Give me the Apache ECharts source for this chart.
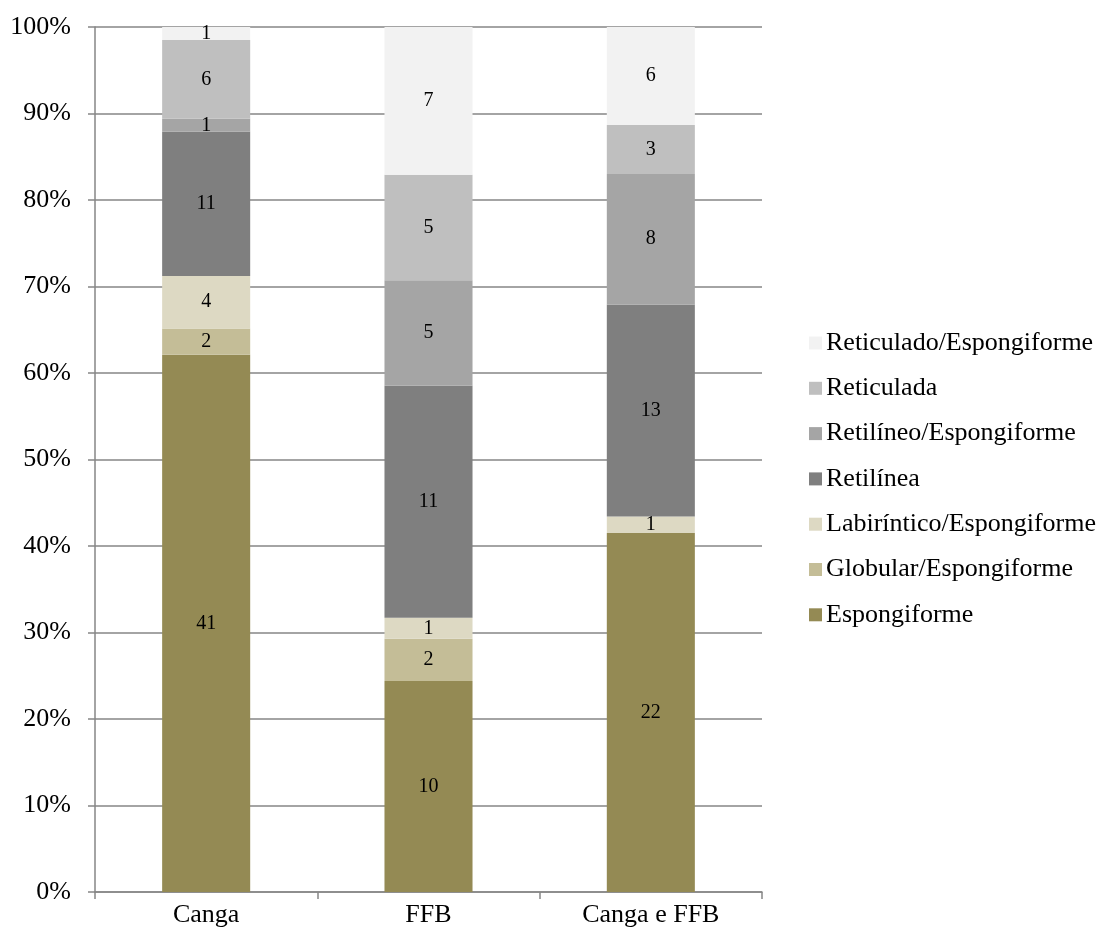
<!DOCTYPE html>
<html>
<head>
<meta charset="utf-8">
<script src="https://cdn.jsdelivr.net/npm/echarts@6/dist/echarts.min.js"></script>
<style>
  html, body { margin: 0; padding: 0; background: #fff; }
  #chart { width: 1102px; height: 938px; }
</style>
</head>
<body>
<div id="chart"></div>
<script>
// Sites along the x axis
const categories = ['Canga', 'FFB', 'Canga e FFB'];

// Counts of each morphological type per site (stack order, bottom to top)
const espongiforme = [41, 10, 22];
const globularEsp = [2, 2, 0];
const labirinticoEsp = [4, 1, 1];
const retilinea = [11, 11, 13];
const retilineoEsp = [1, 5, 8];
const reticulada = [6, 5, 3];
const reticuladoEsp = [1, 7, 6];

const seriesNames = [
  'Espongiforme',
  'Globular/Espongiforme',
  'Labiríntico/Espongiforme',
  'Retilínea',
  'Retilíneo/Espongiforme',
  'Reticulada',
  'Reticulado/Espongiforme'
];
const seriesCounts = [espongiforme, globularEsp, labirinticoEsp, retilinea, retilineoEsp, reticulada, reticuladoEsp];
const seriesColors = ['#948A54', '#C4BD97', '#DDD9C3', '#7F7F7F', '#A5A5A5', '#BFBFBF', '#F2F2F2'];

// Percentage axis ticks
const yTicks = [0, 10, 20, 30, 40, 50, 60, 70, 80, 90, 100];

// Totals per site, used to turn counts into shares of 100%
const totals = categories.map((_, i) => seriesCounts.reduce((s, arr) => s + arr[i], 0));

const font = 'Liberation Serif, Times New Roman, serif';
const axisGray = '#868686';

const series = seriesNames.map((name, k) => ({
  name: name,
  type: 'bar',
  stack: 'total',
  barWidth: '39.6%',
  itemStyle: { color: seriesColors[k] },
  label: {
    show: true,
    position: 'inside',
    color: '#000',
    fontFamily: font,
    fontSize: 20,
    formatter: p => {
      const c = seriesCounts[k][p.dataIndex];
      return c === 0 ? '' : String(c);
    }
  },
  data: seriesCounts[k].map((c, i) => c / totals[i] * 100)
}));

const chart = echarts.init(document.getElementById('chart'), null, { renderer: 'canvas' });
chart.setOption({
  animation: false,
  backgroundColor: '#fff',
  grid: { left: 95, right: 340, top: 27, bottom: 46, containLabel: false },
  legend: {
    orient: 'vertical',
    left: 804,
    top: 323,
    data: seriesNames.slice().reverse(),
    icon: 'rect',
    itemWidth: 13,
    itemHeight: 13,
    itemGap: 15.3,
    textStyle: { fontFamily: font, fontSize: 26, color: '#000', lineHeight: 30, padding: [0, 0, 0, -1] }
  },
  xAxis: {
    type: 'category',
    data: categories,
    axisLine: { show: true, lineStyle: { color: axisGray, width: 1.5 } },
    axisTick: { show: true, alignWithLabel: false, length: 7, lineStyle: { color: axisGray, width: 1.5 } },
    axisLabel: { fontFamily: font, fontSize: 26, color: '#000', margin: 10 }
  },
  yAxis: {
    type: 'value',
    min: yTicks[0],
    max: yTicks[yTicks.length - 1],
    interval: 10,
    axisLine: { show: true, lineStyle: { color: axisGray, width: 1.5 } },
    axisTick: { show: true, length: 7, lineStyle: { color: axisGray, width: 1.5 } },
    axisLabel: { fontFamily: font, fontSize: 26, color: '#000', margin: 24, formatter: '{value}%' },
    splitLine: { show: true, lineStyle: { color: axisGray, width: 1.5 } }
  },
  series: series
});
</script>
</body>
</html>
